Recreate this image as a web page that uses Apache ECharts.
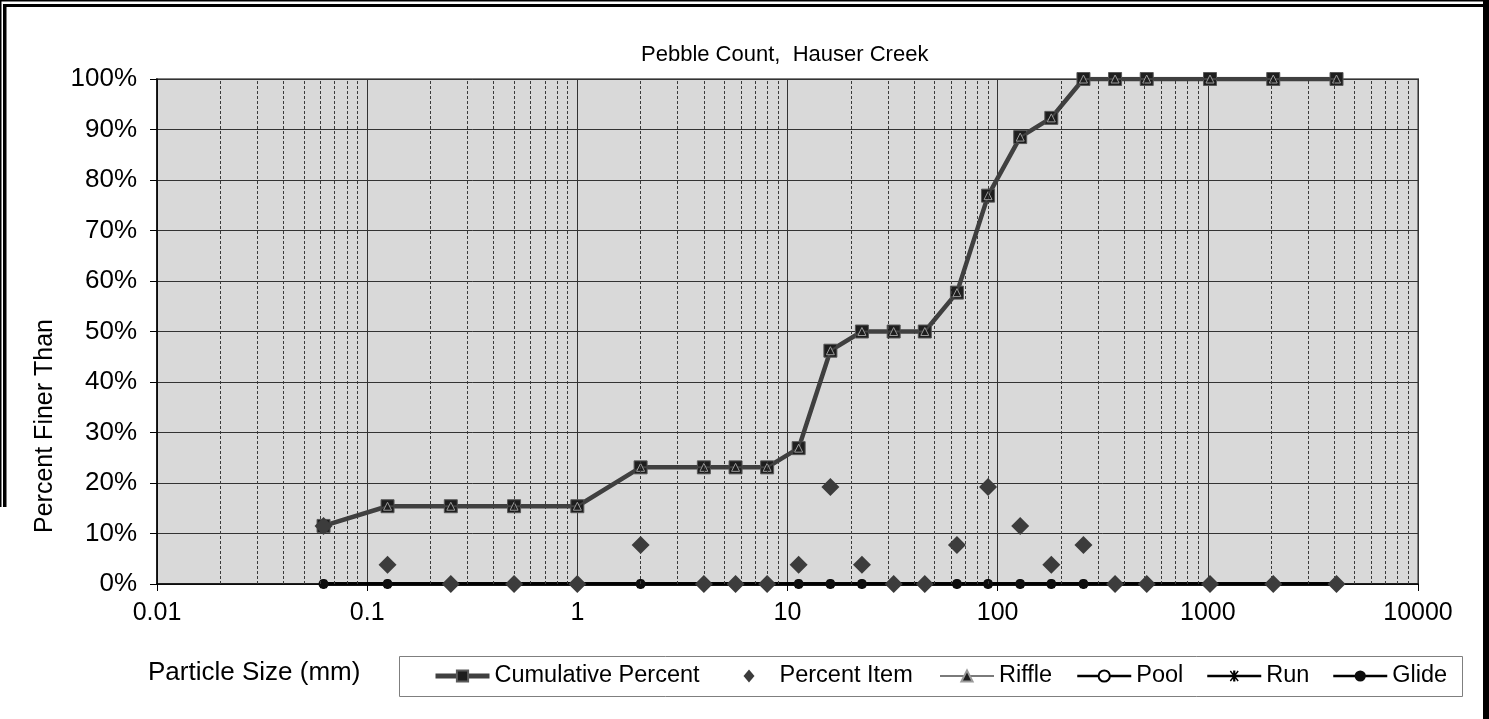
<!DOCTYPE html>
<html>
<head>
<meta charset="utf-8">
<style>
  html, body { margin: 0; padding: 0; background: #fff; }
  #chart { width: 1489px; height: 719px; }
</style>
<script src="https://cdn.jsdelivr.net/npm/echarts@6/dist/echarts.min.js"></script>
</head>
<body>
<div id="chart"></div>
<script>
// ---- data ----
const sizes = [0.062, 0.125, 0.25, 0.5, 1, 2, 4, 5.66, 8, 11.3, 16, 22.6, 32, 45, 64, 90, 128, 180, 256, 362, 512, 1024, 2048, 4096];
const cumulativePercent = [11.5, 15.4, 15.4, 15.4, 15.4, 23.1, 23.1, 23.1, 23.1, 26.9, 46.2, 50, 50, 50, 57.7, 76.9, 88.5, 92.3, 100, 100, 100, 100, 100, 100];
const percentItem = [11.5, 3.8, 0, 0, 0, 7.7, 0, 0, 0, 3.8, 19.2, 3.8, 0, 0, 7.7, 19.2, 11.5, 3.8, 7.7, 0, 0, 0, 0, 0];
const riffle = [11.5, 15.4, 15.4, 15.4, 15.4, 23.1, 23.1, 23.1, 23.1, 26.9, 46.2, 50, 50, 50, 57.7, 76.9, 88.5, 92.3, 100, 100, 100, 100, 100, 100];
const pool = [0, 0, 0, 0, 0, 0, 0, 0, 0, 0, 0, 0, 0, 0, 0, 0, 0, 0, 0, 0, 0, 0, 0, 0];
const run = [0, 0, 0, 0, 0, 0, 0, 0, 0, 0, 0, 0, 0, 0, 0, 0, 0, 0, 0, 0, 0, 0, 0, 0];
const glide = [0, 0, 0, 0, 0, 0, 0, 0, 0, 0, 0, 0, 0, 0, 0, 0, 0, 0, 0, 0, 0, 0, 0, 0];
const xTickLabels = ['0.01', '0.1', '1', '10', '100', '1000', '10000'];
const decades = [0.01, 0.1, 1, 10, 100, 1000];
const minorMultipliers = [2, 3, 4, 5, 6, 7, 8, 9];

const titleText = 'Pebble Count,  Hauser Creek';
const yName = 'Percent Finer Than';
const xName = 'Particle Size (mm)';

// ---- helpers ----
const pair = (vals) => sizes.map((s, i) => [s, vals[i]]);
const minorGrid = [];
decades.forEach(d => minorMultipliers.forEach(k => minorGrid.push(Number((d * k).toPrecision(6)))));

const FONT = '"Liberation Sans", Arial, sans-serif';
const runPath = 'path://M0,4 L10,4 L10,6 L0,6 Z M4,0 L6,0 L6,10 L4,10 Z M1,1 L2,0 L9,9 L8,10 Z M8,0 L9,1 L2,10 L1,9 Z';
const LEG_FONT = 23.5;

const chart = echarts.init(document.getElementById('chart'), null, { renderer: 'canvas' });

function legendAt(left, item, extra) {
  return Object.assign({
    left: left, top: 664,
    itemWidth: 54, itemHeight: 14, itemGap: 0,
    padding: 0,
    selectedMode: false,
    textStyle: { fontFamily: FONT, fontSize: LEG_FONT, color: '#000' },
    data: [item]
  }, extra || {});
}

const option = {
  animation: false,
  backgroundColor: '#fff',
  title: {
    text: titleText,
    left: 641, top: 44,
    padding: 0,
    textStyle: { fontFamily: FONT, fontSize: 22, fontWeight: 'normal', color: '#000' }
  },
  grid: {
    left: 157, right: 71, top: 79, bottom: 135,
    show: true,
    backgroundColor: '#d9d9d9',
    borderColor: '#808080',
    borderWidth: 2
  },
  xAxis: {
    type: 'log',
    logBase: 10,
    min: 0.01, max: 10000,
    interval: 1,
    axisLine: { show: true, onZero: false, lineStyle: { color: '#000', width: 1.5 } },
    axisTick: { show: true, inside: false, length: 7, lineStyle: { color: '#000' } },
    axisLabel: {
      margin: 17,
      fontFamily: FONT, fontSize: 25, color: '#000',
      formatter: (v) => {
        const s = String(Number(v.toPrecision(6)));
        return xTickLabels.indexOf(s) >= 0 ? s : '';
      }
    },
    splitLine: { show: true, lineStyle: { color: '#333', width: 1 } },
    minorTick: { show: false },
    minorSplitLine: { show: false }
  },
  yAxis: {
    type: 'value',
    min: 0, max: 100, interval: 10,
    axisLine: { show: true, lineStyle: { color: '#000', width: 1.5 } },
    axisTick: { show: true, inside: false, length: 7, lineStyle: { color: '#000' } },
    axisLabel: {
      margin: 20,
      fontFamily: FONT, fontSize: 26, color: '#000',
      formatter: '{value}%'
    },
    splitLine: { show: true, lineStyle: { color: '#333', width: 1 } }
  },
  legend: [
    legendAt(433, { name: 'Cumulative Percent', lineStyle: { width: 5, color: '#404040' } }),
    legendAt(743.5, { name: 'Percent Item', icon: 'diamond' },
      { itemWidth: 11, itemHeight: 13,
        textStyle: { fontFamily: FONT, fontSize: LEG_FONT, color: '#000', padding: [0, 0, 0, 20] } }),
    legendAt(939, { name: 'Riffle', lineStyle: { width: 2, color: '#7a7a7a' } }),
    legendAt(1076, { name: 'Pool', lineStyle: { width: 2.5, color: '#000' } }),
    legendAt(1206, { name: 'Run', lineStyle: { width: 2.5, color: '#000' } }),
    legendAt(1332, { name: 'Glide', lineStyle: { width: 2.5, color: '#000' } })
  ],
  series: [
    {
      name: 'Pool', type: 'line', z: 2,
      data: pair(pool),
      lineStyle: { color: '#000', width: 3.5 },
      symbol: 'emptyCircle', symbolSize: 7,
      itemStyle: { color: '#000', borderColor: '#000' },
      markLine: {
        silent: true, symbol: 'none', animation: false,
        label: { show: false },
        lineStyle: { color: '#3a3a3a', width: 1, type: [3, 2] },
        data: minorGrid.map(v => ({ xAxis: v }))
      }
    },
    {
      name: 'Run', type: 'line', z: 2,
      data: pair(run),
      lineStyle: { color: '#000', width: 3.5 },
      symbol: runPath, symbolSize: 9,
      itemStyle: { color: '#000' }
    },
    {
      name: 'Glide', type: 'line', z: 2,
      data: pair(glide),
      lineStyle: { color: '#000', width: 3.5 },
      symbol: 'circle', symbolSize: 10,
      itemStyle: { color: '#0d0d0d' }
    },
    {
      name: 'Cumulative Percent', type: 'line', z: 3,
      data: pair(cumulativePercent),
      lineStyle: { color: '#404040', width: 4.5 },
      symbol: 'rect', symbolSize: 13,
      itemStyle: { color: '#1e1e1e', borderColor: '#5a5a5a', borderWidth: 1 }
    },
    {
      name: 'Riffle', type: 'line', z: 4,
      data: pair(riffle),
      lineStyle: { color: '#404040', width: 2 },
      symbol: 'triangle', symbolSize: 8,
      itemStyle: { color: '#1e1e1e', borderColor: '#9a9a9a', borderWidth: 1 }
    },
    {
      name: 'Percent Item', type: 'scatter', z: 5,
      data: pair(percentItem),
      symbol: 'diamond', symbolSize: 18,
      itemStyle: { color: '#3c3c3c', opacity: 1 }
    }
  ],
  graphic: [
    // outer frame
    { type: 'rect', silent: true, shape: { x: 0, y: 0, width: 1489, height: 1.5 }, style: { fill: '#000' } },
    { type: 'rect', silent: true, shape: { x: 3, y: 4, width: 1486, height: 3 }, style: { fill: '#000' } },
    { type: 'rect', silent: true, shape: { x: 0, y: 0, width: 1.5, height: 507 }, style: { fill: '#000' } },
    { type: 'rect', silent: true, shape: { x: 3, y: 4, width: 3.5, height: 503 }, style: { fill: '#000' } },
    { type: 'rect', silent: true, shape: { x: 1483, y: 0, width: 6, height: 719 }, style: { fill: '#000' } },
    // legend box
    { type: 'rect', silent: true, z: -1, shape: { x: 399.5, y: 656.5, width: 1063, height: 40 }, style: { fill: '#fff', stroke: '#7f7f7f', lineWidth: 1 } },
    // axis names
    { type: 'text', silent: true, x: 45, y: 426, rotation: Math.PI / 2,
      style: { text: yName, fontFamily: FONT, fontSize: 25, fill: '#000', align: 'center', verticalAlign: 'middle' } },
    { type: 'text', silent: true, x: 148, y: 673,
      style: { text: xName, fontFamily: FONT, fontSize: 26, fill: '#000', align: 'left', verticalAlign: 'middle' } }
  ]
};

chart.setOption(option);
</script>
</body>
</html>
